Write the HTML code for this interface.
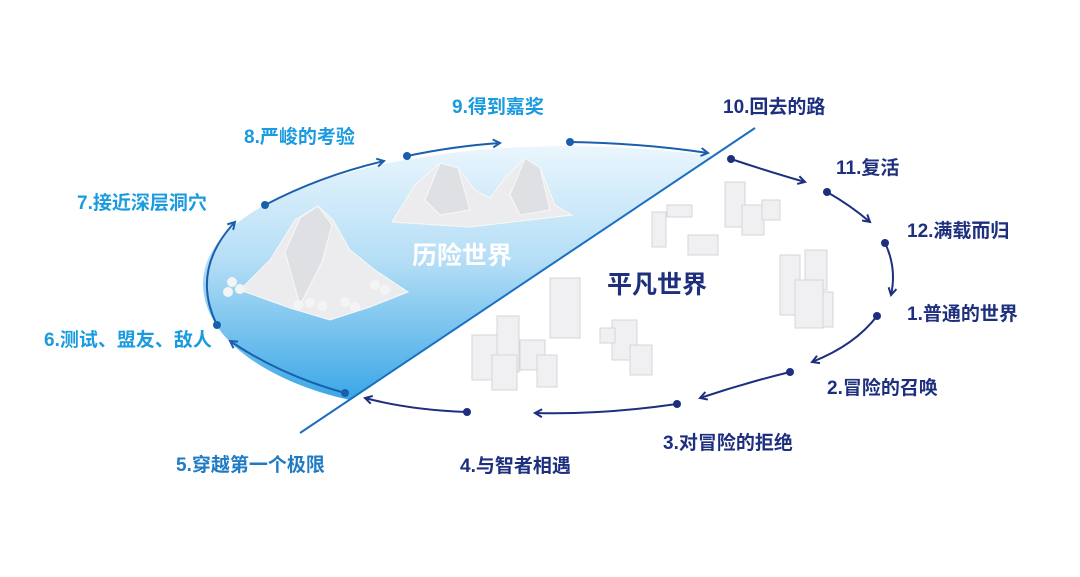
<!DOCTYPE html>
<html><head><meta charset="utf-8"><style>
html,body{margin:0;padding:0;background:#fff;width:1080px;height:577px;overflow:hidden}
svg{display:block}
text{font-family:"Liberation Sans","Noto Sans CJK SC",sans-serif;font-weight:bold;font-size:19px}
</style></head><body>
<svg width="1080" height="577" viewBox="0 0 1080 577">
<defs>
<linearGradient id="g" x1="0" y1="0" x2="0" y2="1">
<stop offset="0" stop-color="#eaf6fd"/><stop offset="0.45" stop-color="#b5def6"/><stop offset="1" stop-color="#3aa7e6"/>
</linearGradient>
<marker id="an" markerWidth="10" markerHeight="10" refX="8" refY="5" orient="auto" markerUnits="userSpaceOnUse"><path d="M1,1 L8,5 L1,9" fill="none" stroke="#1d2f7e" stroke-width="2"/></marker>
<marker id="ab" markerWidth="10" markerHeight="10" refX="8" refY="5" orient="auto" markerUnits="userSpaceOnUse"><path d="M1,1 L8,5 L1,9" fill="none" stroke="#1a5fad" stroke-width="2"/></marker>
</defs>
<path d="M350,400 C280,385 205,345 203,285 C202,235 260,200 330,178 C420,150 560,135 712,156 Z" fill="url(#g)"/>
<line x1="300" y1="433" x2="755" y2="128" stroke="#1a6fc0" stroke-width="2"/>
<g fill="#ececee" stroke="#f8f8f8" stroke-width="1">
<polygon points="240,290 270,260 295,220 318,206 333,220 350,250 375,270 408,292 370,307 330,320 290,308"/>
<polygon points="300,218 318,206 332,225 322,262 300,305 285,252" fill="#dfe0e3"/>
<polygon points="392,222 415,185 440,163 458,168 475,190 490,198 505,178 525,158 540,168 555,205 572,215 470,227"/>
<polygon points="440,163 458,168 470,210 440,215 425,200" fill="#dfe0e3"/>
<polygon points="525,158 540,168 550,210 520,215 510,195" fill="#dfe0e3"/>
</g>
<g fill="#f4f4f6">
<circle cx="232" cy="282" r="5"/><circle cx="240" cy="289" r="5"/><circle cx="228" cy="292" r="5"/>
<circle cx="298" cy="305" r="5"/><circle cx="310" cy="303" r="5"/><circle cx="322" cy="306" r="5"/><circle cx="345" cy="302" r="5"/><circle cx="355" cy="307" r="5"/>
<circle cx="375" cy="285" r="5"/><circle cx="385" cy="290" r="5"/>
</g>
<g fill="#f0f0f2" stroke="#d6d6da" stroke-width="1">
<rect x="550" y="278" width="30" height="60"/>
<rect x="497" y="316" width="22" height="56"/>
<rect x="472" y="335" width="25" height="45"/>
<rect x="520" y="340" width="25" height="30"/>
<rect x="492" y="355" width="25" height="35"/>
<rect x="537" y="355" width="20" height="32"/>
<rect x="612" y="320" width="25" height="40"/>
<rect x="630" y="345" width="22" height="30"/>
<rect x="600" y="328" width="15" height="15"/>
<rect x="780" y="255" width="20" height="60"/>
<rect x="805" y="250" width="22" height="40"/>
<rect x="795" y="280" width="28" height="48"/>
<rect x="823" y="292" width="10" height="35"/>
<rect x="652" y="212" width="14" height="35"/>
<rect x="688" y="235" width="30" height="20"/>
<rect x="667" y="205" width="25" height="12"/>
<rect x="725" y="182" width="20" height="45"/>
<rect x="742" y="205" width="22" height="30"/>
<rect x="762" y="200" width="18" height="20"/>
</g>
<text x="412" y="264" fill="#fff" style="font-size:25px">历险世界</text>
<text x="607" y="293" fill="#1d2f7e" style="font-size:25px">平凡世界</text>
<g fill="none" stroke="#1d2f7e" stroke-width="2">
<path d="M731,159 Q770,172 805,182" marker-end="url(#an)"/>
<path d="M827,192 Q850,205 870,222" marker-end="url(#an)"/>
<path d="M885,243 Q897,268 891,295" marker-end="url(#an)"/>
<path d="M877,316 Q855,345 812,362" marker-end="url(#an)"/>
<path d="M790,372 Q745,383 700,398" marker-end="url(#an)"/>
<path d="M677,404 Q600,415 535,413" marker-end="url(#an)"/>
<path d="M467,412 Q410,410 365,398" marker-end="url(#an)"/>
</g>
<g fill="none" stroke="#1a5fad" stroke-width="2">
<path d="M345,393 Q280,375 230,341" marker-end="url(#ab)"/>
<path d="M217,325 Q190,270 235,222" marker-end="url(#ab)"/>
<path d="M265,205 Q320,176 384,161" marker-end="url(#ab)"/>
<path d="M407,156 Q455,146 500,143" marker-end="url(#ab)"/>
<path d="M570,142 Q640,143 708,153" marker-end="url(#ab)"/>
</g>
<g fill="#1d2f7e">
<circle cx="731" cy="159" r="4"/><circle cx="827" cy="192" r="4"/><circle cx="885" cy="243" r="4"/><circle cx="877" cy="316" r="4"/><circle cx="790" cy="372" r="4"/><circle cx="677" cy="404" r="4"/><circle cx="467" cy="412" r="4"/>
</g>
<g fill="#1a5fad">
<circle cx="345" cy="393" r="4"/><circle cx="217" cy="325" r="4"/><circle cx="265" cy="205" r="4"/><circle cx="407" cy="156" r="4"/><circle cx="570" cy="142" r="4"/>
</g>
<g fill="#1d2f7e">
<text x="723" y="113">10.回去的路</text>
<text x="836" y="174">11.复活</text>
<text x="907" y="237">12.满载而归</text>
<text x="907" y="320">1.普通的世界</text>
<text x="827" y="394">2.冒险的召唤</text>
<text x="663" y="449">3.对冒险的拒绝</text>
<text x="460" y="472">4.与智者相遇</text>
</g>
<text x="176" y="471" fill="#1f7bc4">5.穿越第一个极限</text>
<g fill="#1a9be0">
<text x="44" y="346">6.测试、盟友、敌人</text>
<text x="77" y="209">7.接近深层洞穴</text>
<text x="244" y="143">8.严峻的考验</text>
<text x="452" y="113">9.得到嘉奖</text>
</g>
</svg>
</body></html>
